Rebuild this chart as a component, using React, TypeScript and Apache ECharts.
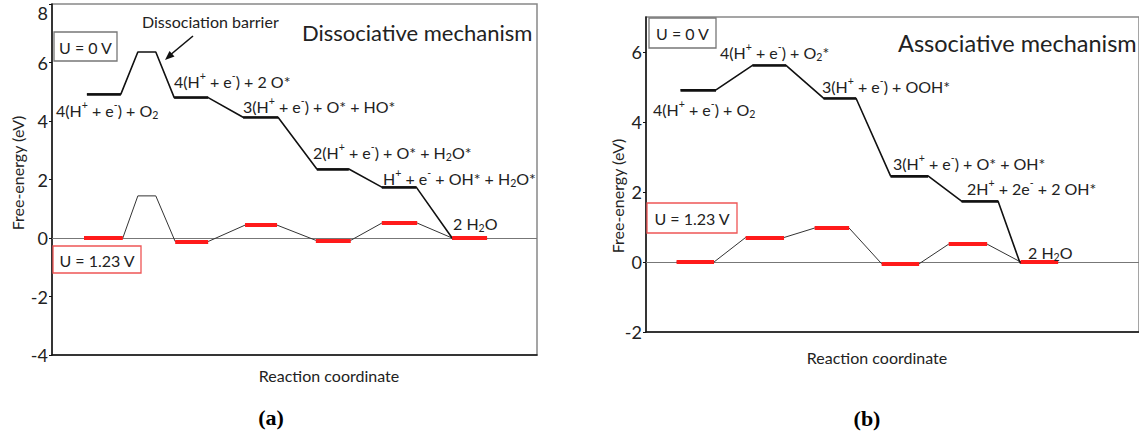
import React, { useEffect, useRef } from "react";
import * as echarts from "echarts";

// ---------- data ----------
// (a) Dissociative mechanism
const dissocBlackStart = [0.72, 2.52, 3.94, 5.46, 6.8, 8.25];
const dissocBlackEnd = [1.42, 3.22, 4.66, 6.12, 7.51, 8.97];
const dissocBlackG = [4.92, 4.8, 4.13, 2.36, 1.74, 0];
const dissocBarrierX = [1.77, 2.14];
const dissocBarrierBlack = 6.36;
const dissocBarrierRed = 1.44;
const dissocRedStart = [0.66, 2.54, 3.98, 5.44, 6.8, 8.25];
const dissocRedEnd = [1.46, 3.22, 4.64, 6.16, 7.53, 8.97];
const dissocRedG = [0, -0.12, 0.44, -0.08, 0.51, 0];

// (b) Associative mechanism
const assocBlackStart = [0.7, 2.16, 3.6, 4.96, 6.4, 7.58];
const assocBlackEnd = [1.42, 2.84, 4.26, 5.72, 7.14, 8.34];
const assocBlackG = [4.92, 5.62, 4.68, 2.46, 1.74, 0];
const assocRedStart = [0.62, 2.02, 3.42, 4.78, 6.14, 7.6];
const assocRedEnd = [1.38, 2.8, 4.12, 5.54, 6.92, 8.36];
const assocRedG = [0, 0.7, 0.97, -0.05, 0.51, 0];

const yTicksA = [-4, -2, 0, 2, 4, 6, 8];
const yTicksB = [-2, 0, 2, 4, 6];

const FONT = "Lato";
const TXT = "#222";

function buildPath(
  starts: number[],
  ends: number[],
  g: number[],
  barrier?: { x: number[]; g: number }
) {
  const pts: number[][] = [];
  starts.forEach((s, i) => {
    pts.push([s, g[i]]);
    pts.push([ends[i], g[i]]);
    if (i === 0 && barrier) {
      pts.push([barrier.x[0], barrier.g]);
      pts.push([barrier.x[1], barrier.g]);
    }
  });
  return pts;
}

function levels(starts: number[], ends: number[], g: number[]) {
  return starts.map((s, i) => ({ coords: [[s, g[i]], [ends[i], g[i]]] }));
}

// convert "4(H^+ + e^-) + O_2" into rich text
function chem(s: string) {
  let out = "";
  let buf = "";
  const flush = () => {
    if (buf) out += `{n|${buf}}`;
    buf = "";
  };
  for (let i = 0; i < s.length; i++) {
    const c = s[i];
    if (c === "^" || c === "_") {
      flush();
      out += `{${c === "^" ? "p" : "b"}|${s[i + 1]}}`;
      i++;
    } else buf += c;
  }
  flush();
  return out;
}

function chemText(label: string, x: number, y: number, size = 16) {
  return {
    type: "text",
    x,
    y,
    z: 100,
    style: {
      text: chem(label),
      verticalAlign: "middle",
      align: "left",
      rich: {
        n: { fontSize: size, fontFamily: FONT, fill: TXT, color: TXT, lineHeight: 21 },
        p: { fontSize: size * 0.66, fontFamily: FONT, fill: TXT, color: TXT, lineHeight: 13, verticalAlign: "top" },
        b: { fontSize: size * 0.66, fontFamily: FONT, fill: TXT, color: TXT, lineHeight: 13, verticalAlign: "bottom" },
      },
    },
  };
}

function plainText(text: string, x: number, y: number, size: number, extra: any = {}) {
  return {
    type: "text",
    x,
    y,
    z: 100,
    ...extra,
    style: {
      text,
      fontSize: size,
      fontFamily: FONT,
      fill: TXT,
      align: "center",
      verticalAlign: "middle",
      ...(extra.style || {}),
    },
  };
}

function box(x: number, y: number, w: number, h: number, stroke: string, label: string) {
  return [
    {
      type: "rect",
      z: 99,
      shape: { x, y, width: w, height: h },
      style: { fill: "#fff", stroke, lineWidth: 1.3 },
    },
    plainText(label, x + w / 2, y + h / 2 + 0.5, 16),
  ];
}

export default function App() {
  const ref = useRef<HTMLDivElement>(null);
  useEffect(() => {
    if (!ref.current) return;
    const chart = echarts.init(ref.current, null, { renderer: "svg" });

    const axisY = (gi: number, min: number, max: number, ticks: number[]) => ({
      type: "value",
      gridIndex: gi,
      min,
      max,
      interval: 2,
      axisLine: { show: true, lineStyle: { color: "#111", width: 1.5 } },
      axisTick: { show: true, length: 3, inside: false, customValues: ticks, lineStyle: { color: "#111" } },
      axisLabel: {
        customValues: ticks,
        fontSize: 18,
        fontFamily: FONT,
        color: TXT,
        margin: 4,
        // the top label sits just below the frame, as in the reference
        formatter: (v: number) => (v === max ? `{t|${v}}` : `${v}`),
        rich: { t: { fontSize: 18, fontFamily: FONT, color: TXT, padding: [17, 0, 0, 0] } },
      },
      splitLine: { show: false },
    });
    const axisX = (gi: number) => ({
      type: "value",
      gridIndex: gi,
      min: 0,
      max: 10,
      axisLine: { show: true, onZero: false, lineStyle: { color: "#111", width: 1.5 } },
      axisTick: { show: false },
      axisLabel: { show: false },
      splitLine: { show: false },
    });

    const panel = (
      gi: number,
      black: number[][],
      blackLv: any[],
      red: number[][],
      redLv: any[]
    ) => [
      {
        type: "line",
        xAxisIndex: gi,
        yAxisIndex: gi,
        data: red,
        symbol: "none",
        z: 3,
        lineStyle: { color: "#333", width: 1 },
        markLine: {
          symbol: "none",
          silent: true,
          label: { show: false },
          lineStyle: { color: "#777", width: 1, type: "solid" },
          data: [{ yAxis: 0 }],
          z: 1,
        },
      },
      {
        type: "lines",
        coordinateSystem: "cartesian2d",
        xAxisIndex: gi,
        yAxisIndex: gi,
        data: redLv,
        z: 5,
        lineStyle: { color: "#ff1a1a", width: 4, opacity: 1 },
      },
      {
        type: "line",
        xAxisIndex: gi,
        yAxisIndex: gi,
        data: black,
        symbol: "none",
        z: 4,
        lineStyle: { color: "#111", width: 1.6 },
      },
      {
        type: "lines",
        coordinateSystem: "cartesian2d",
        xAxisIndex: gi,
        yAxisIndex: gi,
        data: blackLv,
        z: 4,
        lineStyle: { color: "#111", width: 2.6, opacity: 1 },
      },
    ];

    const dBlack = buildPath(dissocBlackStart, dissocBlackEnd, dissocBlackG, { x: dissocBarrierX, g: dissocBarrierBlack });
    const dRed = buildPath(dissocRedStart, dissocRedEnd, dissocRedG, { x: dissocBarrierX, g: dissocBarrierRed });
    const aBlack = buildPath(assocBlackStart, assocBlackEnd, assocBlackG);
    const aRed = buildPath(assocRedStart, assocRedEnd, assocRedG);

    const graphic: any[] = [
      // panel (a)
      { type: "text", x: 142, y: 21, z: 100, style: { text: "Dissociation barrier", fontSize: 16, fontFamily: FONT, fill: TXT, verticalAlign: "middle" } },
      { type: "line", z: 100, shape: { x1: 193, y1: 36, x2: 169, y2: 56 }, style: { stroke: "#111", lineWidth: 1.6 } },
      { type: "polygon", z: 100, shape: { points: [[165, 60], [174.5, 56.5], [169.5, 51]] }, style: { fill: "#111" } },
      { type: "text", x: 302, y: 32, z: 100, style: { text: "Dissociative mechanism", fontSize: 22, fontFamily: FONT, fill: TXT, verticalAlign: "middle" } },
      ...box(54, 32, 63, 29, "#777", "U = 0 V"),
      ...box(53, 246, 88, 27, "#ee5555", "U = 1.23 V"),
      chemText("4(H^+ + e^-) + O_2", 56, 110),
      chemText("4(H^+ + e^-) + 2 O*", 174, 81),
      chemText("3(H^+ + e^-) + O* + HO*", 243, 106),
      chemText("2(H^+ + e^-) + O* + H_2O*", 313, 152),
      chemText("H^+ + e^- + OH* + H_2O*", 383, 178),
      chemText("2 H_2O", 453, 223),
      plainText("Free-energy (eV)", 17, 173, 16, { rotation: Math.PI / 2 }),
      plainText("Reaction coordinate", 329, 375, 16),
      { type: "text", x: 271, y: 417, z: 100, style: { text: "(a)", fontSize: 22, fontWeight: "bold", fontFamily: "Liberation Serif", fill: "#000", align: "center", verticalAlign: "middle" } },
      // panel (b)
      ...box(649, 18, 67, 30, "#777", "U = 0 V"),
      ...box(647, 203, 90, 30, "#ee5555", "U = 1.23 V"),
      { type: "text", x: 898, y: 43, z: 100, style: { text: "Associative mechanism", fontSize: 23.5, fontFamily: FONT, fill: TXT, verticalAlign: "middle" } },
      chemText("4(H^+ + e^-) + O_2*", 720, 52),
      chemText("4(H^+ + e^-) + O_2", 653, 109),
      chemText("3(H^+ + e^-) + OOH*", 822, 86),
      chemText("3(H^+ + e^-) + O* + OH*", 893, 163),
      chemText("2H^+ + 2e^- + 2 OH*", 967, 188),
      chemText("2 H_2O", 1028, 252),
      plainText("Free-energy (eV)", 617, 196, 16, { rotation: Math.PI / 2 }),
      plainText("Reaction coordinate", 877, 357, 16),
      { type: "text", x: 867, y: 418, z: 100, style: { text: "(b)", fontSize: 22, fontWeight: "bold", fontFamily: "Liberation Serif", fill: "#000", align: "center", verticalAlign: "middle" } },
    ];

    chart.setOption({
      animation: false,
      backgroundColor: "#fff",
      grid: [
        { left: 52, top: 4, width: 485, height: 351, show: true, borderColor: "#888", borderWidth: 1.5, backgroundColor: "transparent" },
        { left: 646, top: 17, width: 500, height: 315, show: true, borderColor: "#888", borderWidth: 1.5, backgroundColor: "transparent" },
      ],
      xAxis: [axisX(0), axisX(1)],
      yAxis: [axisY(0, -4, 8, yTicksA), axisY(1, -2, 7, yTicksB)],
      series: [
        ...panel(0, dBlack, levels(dissocBlackStart, dissocBlackEnd, dissocBlackG), dRed, levels(dissocRedStart, dissocRedEnd, dissocRedG)),
        ...panel(1, aBlack, levels(assocBlackStart, assocBlackEnd, assocBlackG), aRed, levels(assocRedStart, assocRedEnd, assocRedG)),
      ],
      graphic,
    });
    return () => chart.dispose();
  }, []);
  return (
    <div
      ref={ref}
      style={{ position: "fixed", left: 0, top: 0, width: 1139, height: 434, background: "#fff" }}
    />
  );
}
